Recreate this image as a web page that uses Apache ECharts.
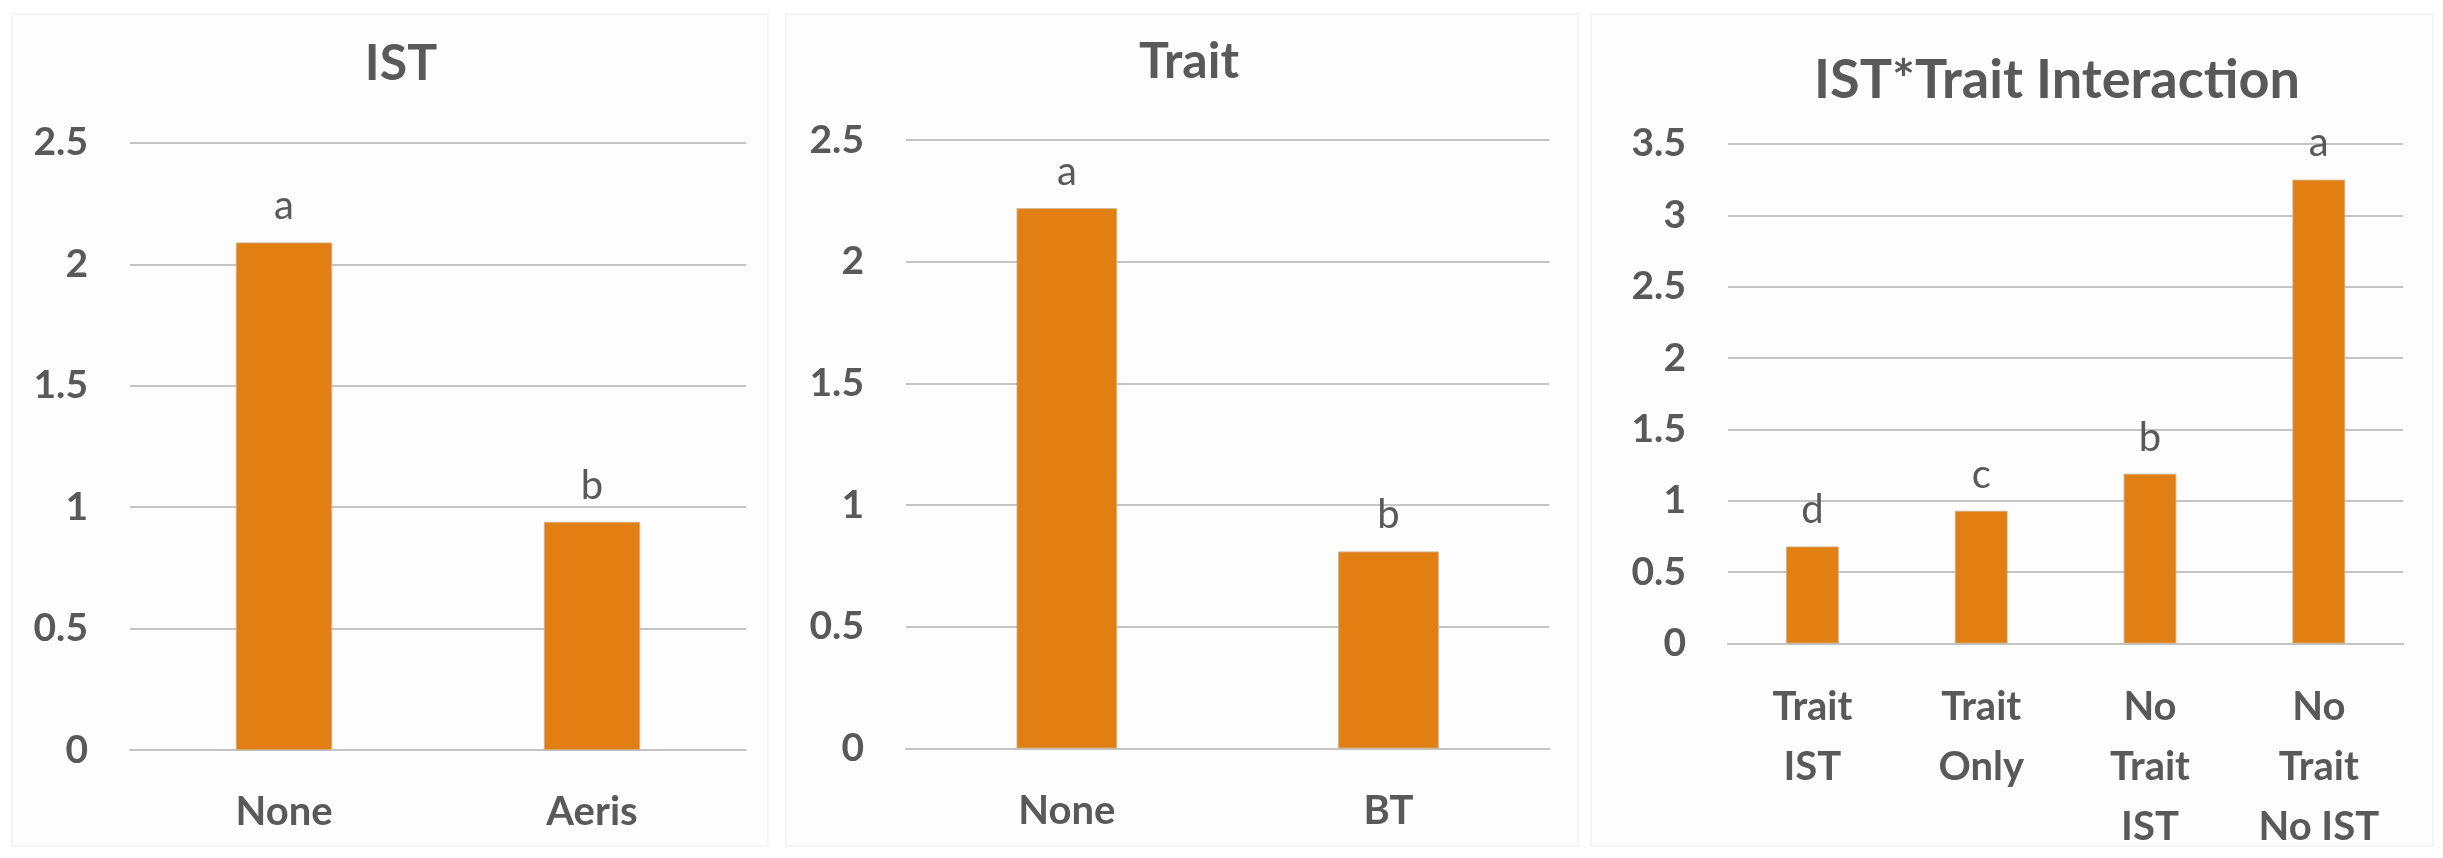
<!DOCTYPE html>
<html>
<head>
<meta charset="utf-8">
<script src="https://cdn.jsdelivr.net/npm/echarts@6/dist/echarts.min.js"></script>
<style>
  html, body { margin: 0; padding: 0; background: #ffffff; }
  #chart { width: 2443px; height: 858px; }
</style>
</head>
<body>
<div id="chart"></div>
<script>
// Main effect of IST
const istCategories = ['None', 'Aeris'];
const istValues = [2.09, 0.94];
const istLetters = ['a', 'b'];

// Main effect of Trait
const traitCategories = ['None', 'BT'];
const traitValues = [2.22, 0.81];
const traitLetters = ['a', 'b'];

// IST x Trait interaction
const interCategories = ['Trait\nIST', 'Trait\nOnly', 'No\nTrait\nIST', 'No\nTrait\nNo IST'];
const interValues = [0.68, 0.93, 1.19, 3.25];
const interLetters = ['d', 'c', 'b', 'a'];

// Axis ranges
const mainAxisMax = 2.5;
const interAxisMax = 3.5;
const axisStep = 0.5;

const panelTitles = ['IST', 'Trait', 'IST*Trait Interaction'];

const FONT = 'Lato, "Open Sans", sans-serif';
const TEXT = '#595959';
const GRID_LINE = '#C4C4C4';
const BAR = '#E17F13';

const chart = echarts.init(document.getElementById('chart'), null, { renderer: 'canvas' });

function yAxis(gridIndex, max) {
  return {
    type: 'value', gridIndex, min: 0, max, interval: axisStep,
    axisLine: { show: false }, axisTick: { show: false },
    axisLabel: { color: TEXT, fontFamily: FONT, fontWeight: 'bold', fontSize: 39, margin: 42 },
    splitLine: { lineStyle: { color: GRID_LINE, width: 2 } }
  };
}

function xAxis(gridIndex, data, margin, lineHeight) {
  return {
    type: 'category', gridIndex, data,
    axisTick: { show: false },
    axisLine: { lineStyle: { color: GRID_LINE, width: 2 } },
    axisLabel: { color: TEXT, fontFamily: FONT, fontWeight: 'bold', fontSize: 40, margin, lineHeight, interval: 0 }
  };
}

function barSeries(idx, values, letters) {
  return {
    type: 'bar', xAxisIndex: idx, yAxisIndex: idx, data: values,
    barWidth: '31.3%',
    itemStyle: { color: BAR, borderColor: 'rgba(205,175,135,0.9)', borderWidth: 1 },
    label: {
      show: true, position: 'top', distance: 16,
      color: TEXT, fontFamily: FONT, fontSize: 40,
      formatter: p => letters[p.dataIndex]
    }
  };
}

const panelBoxes = [
  [12, 14, 756, 832],
  [786, 14, 792, 832],
  [1591, 14, 842, 832]
];

function titleStyle(size) {
  return { color: TEXT, fontFamily: FONT, fontWeight: 'bold', fontSize: size };
}

chart.setOption({
  animation: false,
  backgroundColor: '#ffffff',
  graphic: panelBoxes.map(b => ({
    type: 'rect', silent: true, z: -10,
    shape: { x: b[0], y: b[1], width: b[2], height: b[3] },
    style: { fill: '#FDFDFD', stroke: '#F5F5F5', lineWidth: 2 }
  })),
  title: [
    { text: panelTitles[0], left: 396, top: 34, textAlign: 'center', textStyle: titleStyle(50) },
    { text: panelTitles[1], left: 1184, top: 32, textAlign: 'center', textStyle: titleStyle(50) },
    { text: panelTitles[2], left: 2052, top: 49, textAlign: 'center', textStyle: titleStyle(54) }
  ],
  grid: [
    { left: 130, top: 142.8, width: 616, height: 607.4 },
    { left: 906, top: 140, width: 643.3, height: 608.6 },
    { left: 1728, top: 143.9, width: 675.2, height: 499.6 }
  ],
  xAxis: [
    xAxis(0, istCategories, 42, 40),
    xAxis(1, traitCategories, 42, 40),
    xAxis(2, interCategories, 34, 60)
  ],
  yAxis: [
    yAxis(0, mainAxisMax),
    yAxis(1, mainAxisMax),
    yAxis(2, interAxisMax)
  ],
  series: [
    barSeries(0, istValues, istLetters),
    barSeries(1, traitValues, traitLetters),
    barSeries(2, interValues, interLetters)
  ]
});
</script>
</body>
</html>
